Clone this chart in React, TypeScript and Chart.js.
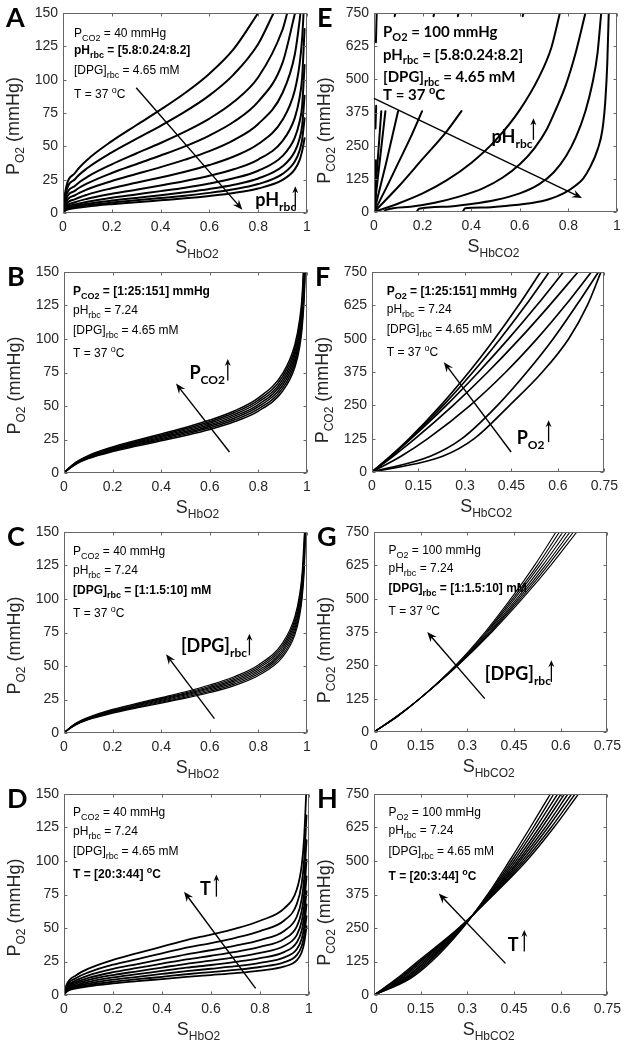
import React, { useEffect, useRef } from 'react';
import { Chart, registerables } from 'chart.js';
Chart.register(...registerables);

type Pt = [number, number];

// ---------- shared tick values ----------
const X_TICKS_O2 = [0, 0.2, 0.4, 0.6, 0.8, 1];
const X_TICKS_CO2 = [0, 0.15, 0.3, 0.45, 0.6, 0.75];
const Y_TICKS_O2 = [0, 25, 50, 75, 100, 125, 150];
const Y_TICKS_CO2 = [0, 125, 250, 375, 500, 625, 750];

// ---------- O2 panels: shared saturation grid ----------
const O2_S = [0, 0.01, 0.05, 0.1, 0.2, 0.3, 0.4, 0.5, 0.6, 0.7, 0.8, 0.9, 0.95, 0.97, 0.98, 0.99];

// Panel A: pH_rbc = 5.8 ... 8.2 (P_O2 on O2_S; END = S where the curve reaches 150)
const A_P = [
  [0, 16.5, 30.2, 40, 53.9, 65.8, 77.5, 90, 104.5, 123.1],
  [0, 13.9, 25.5, 33.7, 45.5, 55.6, 65.4, 76, 88.2, 104, 126.8],
  [0, 11.2, 20.5, 27.1, 36.5, 44.6, 52.5, 61, 70.8, 83.4, 101.8, 137.6],
  [0, 9.2, 16.8, 22.2, 30, 36.6, 43.1, 50, 58.1, 68.4, 83.5, 112.8],
  [0, 7.3, 13.4, 17.8, 24, 29.2, 34.4, 40, 46.4, 54.7, 66.8, 90.2, 118.9, 144.8],
  [0, 5.7, 10.4, 13.8, 18.6, 22.7, 26.7, 31, 36, 42.4, 51.7, 69.9, 92.1, 112.2, 130.8],
  [0, 4.4, 8.1, 10.7, 14.4, 17.5, 20.7, 24, 27.9, 32.8, 40.1, 54.1, 71.3, 86.9, 101.3, 138],
  [0, 3.5, 6.4, 8.4, 11.4, 13.9, 16.4, 19, 22.1, 26, 31.7, 42.8, 56.5, 68.8, 80.2, 111],
  [0, 2.8, 5.2, 6.9, 9.3, 11.3, 13.3, 15.5, 18, 21.2, 25.9, 35, 46.1, 56.1, 65.4, 88],
  [0, 2.4, 4.4, 5.8, 7.8, 9.5, 11.2, 13, 15.1, 17.8, 21.7, 29.3, 38.6, 47.1, 54.9, 71],
  [0, 2, 3.7, 4.9, 6.6, 8, 9.5, 11, 12.8, 15, 18.4, 24.8, 32.7, 39.8, 46.4, 56],
];
const A_END = [0.8, 0.863, 0.919, 0.951, 0.973, 0.986, null, null, null, null, null];

// Panel B: P_CO2 = 1:25:151 mmHg
const B_P = [
  [0, 1.6, 6.7, 10.7, 16, 20.1, 24, 28, 32.5, 38.2, 46.2, 61.2, 78.9, 94.4, 108.6, 137.6],
  [0, 1.7, 7, 11, 16.5, 20.9, 24.9, 29, 33.7, 39.5, 47.8, 63.3, 81.7, 97.8, 112.5, 142.5],
  [0, 1.7, 7.2, 11.4, 17.1, 21.6, 25.7, 30, 34.9, 40.9, 49.5, 65.5, 84.5, 101.2, 116.4, 147.4],
  [0, 1.8, 7.4, 11.8, 17.7, 22.3, 26.6, 31, 36, 42.3, 51.1, 67.7, 87.3, 104.5, 120.2],
  [0, 1.9, 7.7, 12.2, 18.2, 23, 27.5, 32, 37.2, 43.6, 52.8, 69.9, 90.1, 107.9, 124.1],
  [0, 1.9, 7.9, 12.6, 18.8, 23.7, 28.3, 33, 38.3, 45, 54.4, 72.1, 93, 111.3, 128],
  [0, 2, 8.2, 13, 19.4, 24.4, 29.2, 34, 39.5, 46.3, 56.1, 74.3, 95.8, 114.6, 131.9],
];
const B_END = [0.992, 0.991, 0.9903, 0.9893, 0.9878, 0.9864, 0.9851];

// Panel C: [DPG]_rbc = 1:1.5:10 mM
const C_P = [
  [0, 1.5, 6.2, 9.9, 14.8, 18.7, 22.3, 26, 30.2, 35.4, 42.9, 56.8, 73.2, 87.7, 100.9, 127.7],
  [0, 1.6, 6.4, 10.2, 15.3, 19.3, 23, 26.8, 31.1, 36.5, 44.2, 58.5, 75.5, 90.4, 104, 131.7],
  [0, 1.6, 6.6, 10.5, 15.7, 19.8, 23.7, 27.6, 32.1, 37.6, 45.5, 60.3, 77.7, 93.1, 107.1, 135.6],
  [0, 1.6, 6.8, 10.8, 16.2, 20.4, 24.4, 28.4, 33, 38.7, 46.8, 62, 80, 95.8, 110.2, 139.5],
  [0, 1.7, 7, 11.1, 16.6, 21, 25.1, 29.2, 33.9, 39.8, 48.2, 63.8, 82.3, 98.5, 113.3, 143.5],
  [0, 1.7, 7.2, 11.4, 17.1, 21.6, 25.7, 30, 34.9, 40.9, 49.5, 65.5, 84.5, 101.2, 116.4, 147.4],
  [0, 1.8, 7.4, 11.7, 17.6, 22.1, 26.4, 30.8, 35.8, 42, 50.8, 67.3, 86.8, 103.9, 119.5],
];
const C_END = [0.9933, 0.9926, 0.992, 0.9914, 0.9909, 0.9903, 0.9896];

// Panel D: T = 20:3:44 degC
const D_P = [
  [0, 2.4, 4.9, 6.5, 8.6, 10.3, 11.9, 13.5, 14.9, 16.3, 18.2, 21.3, 25.9, 31.7, 38.5, 51.3],
  [0, 2.8, 5.6, 7.4, 9.9, 11.8, 13.6, 15.5, 17.1, 18.8, 20.9, 24.5, 29.8, 36.4, 44.2, 58.9],
  [0, 3.2, 6.4, 8.5, 11.4, 13.5, 15.7, 17.8, 19.6, 21.5, 24, 28.1, 34.2, 41.8, 50.7, 67.6],
  [0, 3.7, 7.3, 9.8, 13.1, 15.5, 18, 20.4, 22.4, 24.7, 27.5, 32.2, 39.2, 47.9, 58.1, 77.5],
  [0, 4.2, 8.4, 11.2, 14.9, 17.7, 20.5, 23.3, 25.6, 28.2, 31.5, 36.8, 44.7, 54.8, 66.4, 88.5],
  [0, 4.8, 9.6, 12.8, 17, 20.2, 23.4, 26.6, 29.3, 32.2, 35.9, 42, 51.1, 62.5, 75.8, 101],
  [0, 5.5, 10.9, 14.6, 19.5, 23.1, 26.8, 30.4, 33.4, 36.8, 41, 48, 58.4, 71.4, 86.6, 115.5],
  [0, 6.4, 12.7, 16.9, 22.6, 26.8, 31.1, 35.3, 38.8, 42.7, 47.7, 55.8, 67.8, 83, 100.6, 134.1],
  [0, 7.4, 14.8, 19.7, 26.2, 31.2, 36.1, 41, 45.1, 49.6, 55.4, 64.8, 78.7, 96.4, 116.9],
];
const D_END = [null, null, null, null, null, null, null, null, 0.9885];

// Panel E: P_CO2 vs S_HbCO2 for pH_rbc = 5.8 ... 8.2  ([S, P] pairs)
const E_CURVES: Pt[][] = [
  [[0.365, 0], [0.375, 14], [0.45, 17], [0.55, 24], [0.65, 34], [0.72, 48], [0.78, 70], [0.83, 100], [0.86, 125], [0.89, 170], [0.92, 235], [0.94, 310], [0.952, 420], [0.96, 560], [0.966, 750]],
  [[0.175, 0], [0.185, 12], [0.3, 20], [0.4, 30], [0.5, 45], [0.6, 70], [0.68, 105], [0.74, 150], [0.79, 210], [0.83, 280], [0.87, 380], [0.9, 490], [0.92, 600], [0.935, 750]],
  [[0.04, 0], [0.05, 8], [0.15, 20], [0.25, 35], [0.35, 58], [0.45, 90], [0.53, 130], [0.6, 180], [0.66, 240], [0.71, 310], [0.75, 390], [0.79, 480], [0.83, 600], [0.87, 750]],
  [[0, 0], [0.1, 32], [0.2, 70], [0.3, 120], [0.4, 185], [0.5, 270], [0.6, 385], [0.68, 510], [0.73, 620], [0.765, 750]],
  [[0, 0], [0.1, 95], [0.2, 200], [0.3, 305], [0.36, 380]],
  [[0, 0], [0.05, 90], [0.1, 185], [0.15, 280], [0.198, 380]],
  [[0, 0], [0.05, 185], [0.099, 380]],
  [[0, 0], [0.047, 380]],
  [[0, 0], [0.03, 380]],
];
const E_FRAGMENTS: Pt[][] = [
  [[0.006, 45], [0.008, 195]],
  [[0.006, 315], [0.009, 400]],
  [[0.008, 640], [0.011, 750]],
  [[0.085, 738], [0.088, 750]],
  [[0.245, 738], [0.248, 750]],
  [[0.345, 738], [0.348, 750]],
  [[0.612, 738], [0.615, 750]],
];

// CO2 panels F, G, H: shared P_CO2 levels, S_HbCO2 per curve
const CO2_P = [0, 60, 125, 250, 375, 500, 625, 750];
const F_S = [
  [0, 0.06, 0.12, 0.222, 0.313, 0.396, 0.473, 0.544],
  [0, 0.062, 0.123, 0.23, 0.326, 0.414, 0.496, 0.572],
  [0, 0.063, 0.126, 0.24, 0.344, 0.441, 0.532, 0.618],
  [0, 0.069, 0.139, 0.262, 0.374, 0.477, 0.573, 0.665],
  [0, 0.095, 0.18, 0.317, 0.432, 0.533, 0.624, 0.708],
  [0, 0.19, 0.29, 0.405, 0.5, 0.585, 0.66, 0.731],
  [0, 0.23, 0.33, 0.444, 0.55, 0.635, 0.695, 0.739],
];
const G_S = [
  [0, 0.078, 0.147, 0.262, 0.357, 0.44, 0.516, 0.585],
  [0, 0.077, 0.147, 0.263, 0.361, 0.446, 0.525, 0.596],
  [0, 0.077, 0.147, 0.265, 0.364, 0.452, 0.533, 0.607],
  [0, 0.076, 0.147, 0.266, 0.368, 0.459, 0.542, 0.619],
  [0, 0.075, 0.147, 0.267, 0.372, 0.465, 0.551, 0.63],
  [0, 0.075, 0.147, 0.269, 0.375, 0.471, 0.559, 0.641],
  [0, 0.074, 0.147, 0.27, 0.379, 0.477, 0.568, 0.652],
];
const H_S = [
  [0, 0.072, 0.14, 0.272, 0.385, 0.49, 0.578, 0.657],
  [0, 0.077, 0.146, 0.274, 0.383, 0.483, 0.569, 0.646],
  [0, 0.083, 0.151, 0.275, 0.38, 0.476, 0.559, 0.635],
  [0, 0.088, 0.157, 0.277, 0.378, 0.469, 0.55, 0.623],
  [0, 0.094, 0.163, 0.279, 0.375, 0.463, 0.54, 0.612],
  [0, 0.099, 0.168, 0.28, 0.373, 0.456, 0.531, 0.601],
  [0, 0.104, 0.174, 0.282, 0.37, 0.449, 0.521, 0.59],
  [0, 0.11, 0.179, 0.283, 0.368, 0.442, 0.512, 0.578],
  [0, 0.115, 0.185, 0.285, 0.365, 0.435, 0.502, 0.567],
];

// ---------- texts ----------
const A_NOTES = ['P_{CO2} = 40 mmHg', 'pH_{rbc} = [5.8:0.24:8.2]', '[DPG]_{rbc} = 4.65 mM', 'T = 37 ^{o}C'];
const B_NOTES = ['P_{CO2} = [1:25:151] mmHg', 'pH_{rbc} = 7.24', '[DPG]_{rbc} = 4.65 mM', 'T = 37 ^{o}C'];
const C_NOTES = ['P_{CO2} = 40 mmHg', 'pH_{rbc} = 7.24', '[DPG]_{rbc} = [1:1.5:10] mM', 'T = 37 ^{o}C'];
const D_NOTES = ['P_{CO2} = 40 mmHg', 'pH_{rbc} = 7.24', '[DPG]_{rbc} = 4.65 mM', 'T = [20:3:44] ^{o}C'];
const E_NOTES = ['P_{O2} = 100 mmHg', 'pH_{rbc} = [5.8:0.24:8.2]', '[DPG]_{rbc} = 4.65 mM', 'T = 37 ^{o}C'];
const F_NOTES = ['P_{O2} = [1:25:151] mmHg', 'pH_{rbc} = 7.24', '[DPG]_{rbc} = 4.65 mM', 'T = 37 ^{o}C'];
const G_NOTES = ['P_{O2} = 100 mmHg', 'pH_{rbc} = 7.24', '[DPG]_{rbc} = [1:1.5:10] mM', 'T = 37 ^{o}C'];
const H_NOTES = ['P_{O2} = 100 mmHg', 'pH_{rbc} = 7.24', '[DPG]_{rbc} = 4.65 mM', 'T = [20:3:44] ^{o}C'];

// ---------- builders ----------
function buildO2(P: number[][], END: (number | null)[]): Pt[][] {
  return P.map((row, i) => {
    const pts: Pt[] = row.map((p, j) => [O2_S[j], p] as Pt);
    const e = END[i];
    if (e !== null && e !== undefined) pts.push([e, 150]);
    return pts;
  });
}
function buildCO2(S: number[][]): Pt[][] {
  return S.map((row) => row.map((s, j) => [s, CO2_P[j]] as Pt));
}

// ---------- styling ----------
const ARIAL = '"Liberation Sans", Arial, sans-serif';
const CALIBRI = 'Lato, "Open Sans", sans-serif';
const AXIS_COLOR = '#262626';
const FRAME_COLOR = '#666666';
const PAD_L = 64, PAD_T = 14, PAD_R = 16, PAD_B = 56;

interface Panel {
  letter: string;
  area: [number, number, number, number];
  co2: boolean;
  xTicks: number[];
  yTicks: number[];
  col: 0 | 1;
  curves: Pt[][];
  lw: number;
  notes: string[];
  bold: number;
  noteX: number;
  noteY: number[];
  noteCalibri?: boolean;
  arrow: [number, number, number, number];
  label: string;
  labelAt: [number, number];
  up: [number, number, number];
}

const PANELS: Panel[] = [
  {
    letter: 'A', area: [63, 13, 307, 213], co2: false, xTicks: X_TICKS_O2, yTicks: Y_TICKS_O2, col: 0,
    curves: buildO2(A_P, A_END), lw: 2,
    notes: A_NOTES, bold: 1, noteX: 0.045, noteY: [132, 119, 104, 86],
    arrow: [0.3, 94, 0.735, 2.5], label: 'pH_{rbc}', labelAt: [0.788, 5], up: [0.952, 2.5, 20],
  },
  {
    letter: 'B', area: [64, 272, 307, 473], co2: false, xTicks: X_TICKS_O2, yTicks: Y_TICKS_O2, col: 0,
    curves: buildO2(B_P, B_END), lw: 1.5,
    notes: B_NOTES, bold: 0, noteX: 0.037, noteY: [132.6, 118.9, 104, 86.6],
    arrow: [0.681, 15.7, 0.461, 66.7], label: 'P_{CO2}', labelAt: [0.516, 70.4], up: [0.674, 69, 85],
  },
  {
    letter: 'C', area: [64, 532, 307, 733], co2: false, xTicks: X_TICKS_O2, yTicks: Y_TICKS_O2, col: 0,
    curves: buildO2(C_P, C_END), lw: 1.2,
    notes: C_NOTES, bold: 2, noteX: 0.037, noteY: [132.6, 118.9, 104, 86.6],
    arrow: [0.619, 10.7, 0.42, 58.7], label: '[DPG]_{rbc}', labelAt: [0.481, 60.4], up: [0.763, 58, 74],
  },
  {
    letter: 'D', area: [64, 794, 309, 995], co2: false, xTicks: X_TICKS_O2, yTicks: Y_TICKS_O2, col: 0,
    curves: buildO2(D_P, D_END), lw: 1.8,
    notes: D_NOTES, bold: 3, noteX: 0.037, noteY: [133.6, 119.4, 104.5, 87],
    arrow: [0.782, 5, 0.49, 77.1], label: 'T', labelAt: [0.555, 74.6], up: [0.622, 73.4, 90],
  },
  {
    letter: 'E', area: [374, 13, 617, 212], co2: true, xTicks: X_TICKS_O2, yTicks: Y_TICKS_CO2, col: 1,
    curves: [...E_CURVES, ...E_FRAGMENTS], lw: 2,
    notes: E_NOTES, bold: -1, noteX: 0.037, noteY: [660, 572, 491, 422], noteCalibri: true,
    arrow: [0, 428, 0.856, 52.6], label: 'pH_{rbc}', labelAt: [0.484, 259], up: [0.656, 272, 353],
  },
  {
    letter: 'F', area: [372, 272, 608, 472], co2: true, xTicks: X_TICKS_CO2, yTicks: Y_TICKS_CO2, col: 1,
    curves: buildCO2(F_S), lw: 1.7,
    notes: F_NOTES, bold: 0, noteX: 0.0475, noteY: [662, 596, 521, 434],
    arrow: [0.449, 75, 0.232, 412], label: 'P_{O2}', labelAt: [0.467, 106], up: [0.57, 112, 194],
  },
  {
    letter: 'G', area: [374, 532, 611, 732], co2: true, xTicks: X_TICKS_CO2, yTicks: Y_TICKS_CO2, col: 1,
    curves: buildCO2(G_S), lw: 1.1,
    notes: G_NOTES, bold: 2, noteX: 0.0465, noteY: [669, 600, 525, 437.5],
    arrow: [0.356, 125, 0.171, 375], label: '[DPG]_{rbc}', labelAt: [0.356, 194], up: [0.57, 187.5, 269],
  },
  {
    letter: 'H', area: [374, 794, 611, 995], co2: true, xTicks: X_TICKS_CO2, yTicks: Y_TICKS_CO2, col: 1,
    curves: buildCO2(H_S), lw: 1.4,
    notes: H_NOTES, bold: 3, noteX: 0.0465, noteY: [668, 600, 522, 429],
    arrow: [0.4225, 118, 0.208, 379], label: 'T', labelAt: [0.43, 165], up: [0.483, 162, 242.5],
  },
];

// ---------- rich text ----------
type Part = { t: string; k: number };
function parseRich(s: string): Part[] {
  const parts: Part[] = [];
  const re = /([_^])\{([^}]*)\}/g;
  let last = 0;
  let m: RegExpExecArray | null;
  while ((m = re.exec(s))) {
    if (m.index > last) parts.push({ t: s.slice(last, m.index), k: 0 });
    parts.push({ t: m[2], k: m[1] === '_' ? 1 : 2 });
    last = re.lastIndex;
  }
  if (last < s.length) parts.push({ t: s.slice(last), k: 0 });
  return parts;
}
interface RS { size: number; sub: number; dy: number; up: number; fam: string; weight: string; center?: boolean }
function drawRich(ctx: CanvasRenderingContext2D, s: string, x: number, y: number, o: RS) {
  const parts = parseRich(s);
  const fonts = parts.map((p) => `${o.weight} ${p.k ? o.sub : o.size}px ${o.fam}`);
  const ws = parts.map((p, i) => { ctx.font = fonts[i]; return ctx.measureText(p.t).width; });
  const total = ws.reduce((a, b) => a + b, 0);
  let cx = o.center ? x - total / 2 : x;
  ctx.textAlign = 'left';
  ctx.textBaseline = 'alphabetic';
  parts.forEach((p, i) => {
    ctx.font = fonts[i];
    ctx.fillText(p.t, cx, y + (p.k === 1 ? o.dy : p.k === 2 ? -o.up : 0));
    cx += ws[i];
  });
  return total;
}

function drawArrow(ctx: CanvasRenderingContext2D, x1: number, y1: number, x2: number, y2: number, lw: number, L: number, W: number) {
  const dx = x2 - x1, dy = y2 - y1, d = Math.hypot(dx, dy);
  const ux = dx / d, uy = dy / d, nx = -uy, ny = ux;
  ctx.strokeStyle = '#000';
  ctx.fillStyle = '#000';
  ctx.lineWidth = lw;
  ctx.beginPath();
  ctx.moveTo(x1, y1);
  ctx.lineTo(x2 - ux * L * 0.6, y2 - uy * L * 0.6);
  ctx.stroke();
  ctx.beginPath();
  ctx.moveTo(x2, y2);
  ctx.lineTo(x2 - ux * L + nx * W, y2 - uy * L + ny * W);
  ctx.lineTo(x2 - ux * L * 0.65, y2 - uy * L * 0.65);
  ctx.lineTo(x2 - ux * L - nx * W, y2 - uy * L - ny * W);
  ctx.closePath();
  ctx.fill();
}

function decoPlugin(p: Panel) {
  return {
    id: 'deco' + p.letter,
    afterDraw(chart: any) {
      const { ctx, chartArea: a } = chart;
      const xs = chart.scales.x, ys = chart.scales.y;
      const X = (v: number) => xs.getPixelForValue(v);
      const Y = (v: number) => ys.getPixelForValue(v);
      ctx.save();
      // frame + inward ticks (box on)
      ctx.strokeStyle = FRAME_COLOR;
      ctx.lineWidth = 1;
      const l = Math.round(a.left) + 0.5, t = Math.round(a.top) + 0.5;
      const r = Math.round(a.right) - 0.5, b = Math.round(a.bottom) - 0.5;
      ctx.strokeRect(l, t, r - l, b - t);
      ctx.beginPath();
      p.xTicks.forEach((v) => {
        const px = Math.round(X(v)) + 0.5;
        ctx.moveTo(px, b); ctx.lineTo(px, b - 3);
        ctx.moveTo(px, t); ctx.lineTo(px, t + 3);
      });
      p.yTicks.forEach((v) => {
        const py = Math.round(Y(v)) + 0.5;
        ctx.moveTo(l, py); ctx.lineTo(l + 3, py);
        ctx.moveTo(r, py); ctx.lineTo(r - 3, py);
      });
      ctx.stroke();

      // axis titles
      ctx.fillStyle = AXIS_COLOR;
      const cxm = (a.left + a.right) / 2 + (p.col === 0 ? 12 : -2);
      drawRich(ctx, p.co2 ? 'S_{HbCO2}' : 'S_{HbO2}', cxm, a.bottom + 40, { size: 18, sub: 12, dy: 5, up: 6, fam: ARIAL, weight: 'normal', center: true });
      ctx.save();
      ctx.translate(a.left - 44, (a.top + a.bottom) / 2 + (p.co2 ? 18 : 13));
      ctx.rotate(-Math.PI / 2);
      drawRich(ctx, p.co2 ? 'P_{CO2} (mmHg)' : 'P_{O2} (mmHg)', 0, 0, { size: 18, sub: 12, dy: 5, up: 6, fam: ARIAL, weight: 'normal', center: true });
      ctx.restore();

      // notes
      ctx.fillStyle = '#000';
      p.notes.forEach((s, i) => {
        const bx = X(p.noteX), by = Y(p.noteY[i]);
        if (p.noteCalibri) {
          drawRich(ctx, s, bx, by, { size: 15, sub: 11, dy: 4, up: 6, fam: CALIBRI, weight: 'bold' });
        } else {
          drawRich(ctx, s, bx, by, { size: 12, sub: 9, dy: 4, up: 5, fam: ARIAL, weight: i === p.bold ? 'bold' : 'normal' });
        }
      });

      // big arrow
      const [ax1, ay1, ax2, ay2] = p.arrow;
      drawArrow(ctx, X(ax1), Y(ay1), X(ax2), Y(ay2), 1.4, 10, 4);

      // label with up arrow
      ctx.fillStyle = '#000';
      drawRich(ctx, p.label, X(p.labelAt[0]), Y(p.labelAt[1]), { size: 18, sub: 12, dy: 5, up: 6, fam: CALIBRI, weight: 'bold' });
      const [ux, uy1, uy2] = p.up;
      drawArrow(ctx, X(ux), Y(uy1), X(ux), Y(uy2), 1.3, 7, 3);

      // panel letter
      ctx.fillStyle = '#000';
      ctx.font = `bold 27px ${CALIBRI}`;
      ctx.textAlign = 'left';
      ctx.textBaseline = 'alphabetic';
      ctx.fillText(p.letter, a.left - 57, a.top + 14);
      ctx.restore();
    },
  };
}

function fmt(v: number | string) {
  const n = Number(v);
  return String(Math.round(n * 100) / 100);
}

function PanelChart({ p }: { p: Panel }) {
  const ref = useRef<HTMLCanvasElement>(null);
  const [L, T, R, B] = p.area;
  const w = R - L + PAD_L + PAD_R;
  const h = B - T + PAD_T + PAD_B;
  useEffect(() => {
    if (!ref.current) return;
    const xTicks = p.xTicks;
    const yTicks = p.yTicks;
    const chart = new Chart(ref.current, {
      type: 'scatter',
      data: {
        datasets: p.curves.map((c) => ({
          data: c.map(([x, y]) => ({ x, y })),
          showLine: true,
          borderColor: '#000',
          borderWidth: p.lw,
          pointRadius: 0,
          pointHoverRadius: 0,
          cubicInterpolationMode: 'monotone' as const,
          borderCapStyle: 'round' as const,
          borderJoinStyle: 'round' as const,
          fill: false,
        })),
      },
      options: {
        responsive: false,
        animation: false,
        events: [],
        layout: { padding: { top: PAD_T, right: PAD_R, left: 0, bottom: 0 } },
        plugins: { legend: { display: false }, tooltip: { enabled: false } },
        scales: {
          x: {
            type: 'linear',
            min: 0,
            max: xTicks[xTicks.length - 1],
            afterBuildTicks: (s: any) => { s.ticks = xTicks.map((v) => ({ value: v })); },
            afterFit: (s: any) => { s.height = PAD_B; },
            grid: { display: false, drawTicks: false },
            border: { display: false },
            ticks: { autoSkip: false, maxRotation: 0, padding: 6, color: AXIS_COLOR, font: { family: ARIAL, size: 14 }, callback: (v: any) => fmt(v) },
          },
          y: {
            type: 'linear',
            min: 0,
            max: yTicks[yTicks.length - 1],
            afterBuildTicks: (s: any) => { s.ticks = yTicks.map((v) => ({ value: v })); },
            afterFit: (s: any) => { s.width = PAD_L; },
            grid: { display: false, drawTicks: false },
            border: { display: false },
            ticks: { autoSkip: false, padding: 5, color: AXIS_COLOR, font: { family: ARIAL, size: 14 }, callback: (v: any) => fmt(v) },
          },
        },
      } as any,
      plugins: [decoPlugin(p)],
    });
    return () => chart.destroy();
  }, [p]);
  return (
    <canvas
      ref={ref}
      width={w}
      height={h}
      style={{ position: 'absolute', left: L - PAD_L, top: T - PAD_T, width: w, height: h }}
    />
  );
}

export default function App() {
  return (
    <div style={{ position: 'absolute', left: 0, top: 0, width: 630, height: 1050, background: '#fff', overflow: 'hidden' }}>
      {PANELS.map((p) => (
        <PanelChart key={p.letter} p={p} />
      ))}
    </div>
  );
}
